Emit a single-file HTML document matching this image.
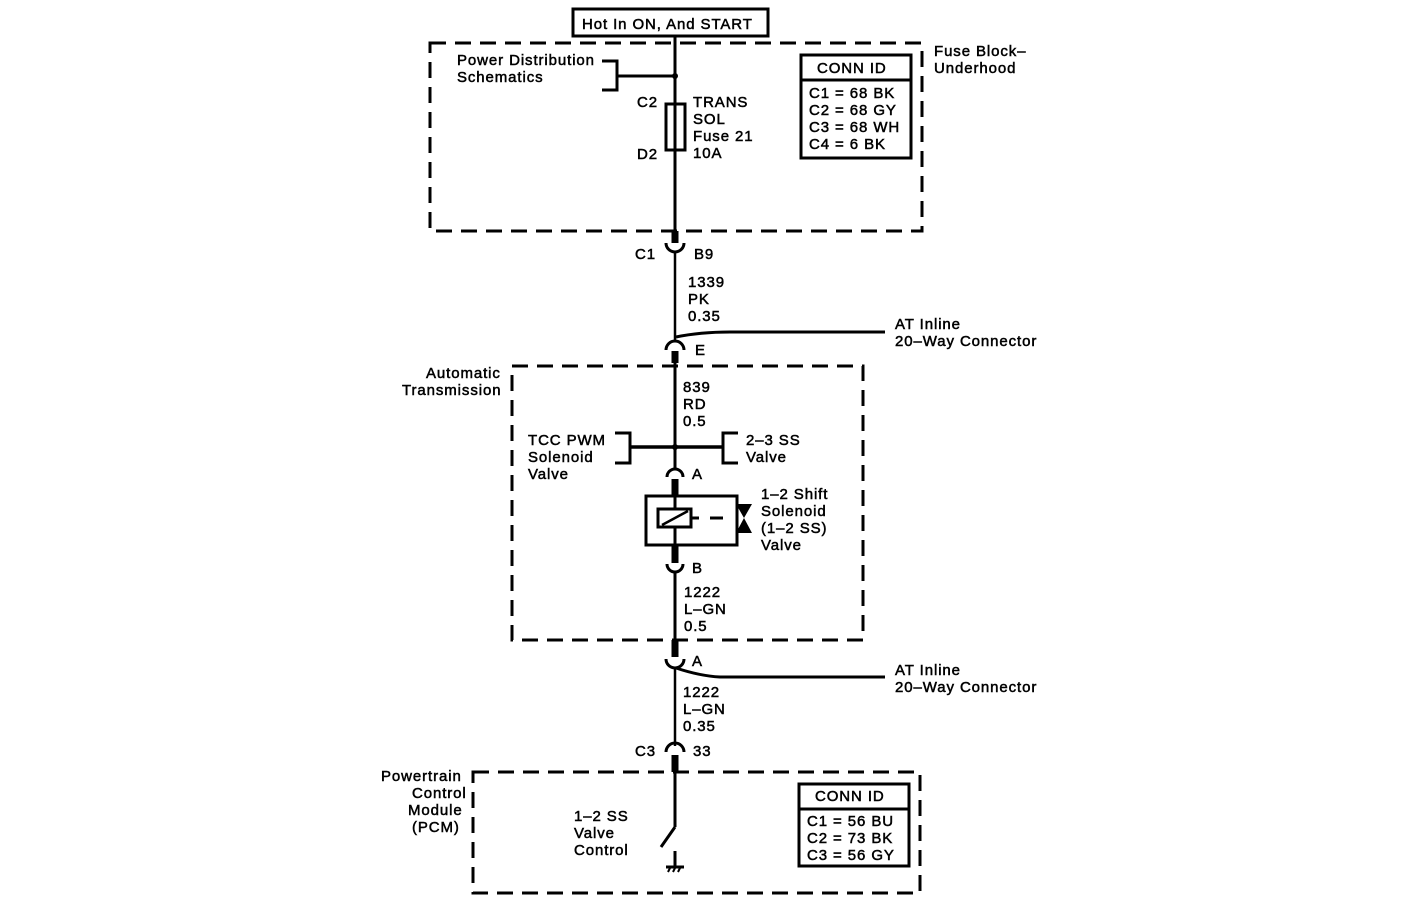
<!DOCTYPE html>
<html><head><meta charset="utf-8"><style>
html,body{margin:0;padding:0;background:#fff;}
svg{display:block}
text{font-family:"Liberation Sans",sans-serif;font-size:15px;letter-spacing:0.9px;fill:#000;stroke:#000;stroke-width:0.5}
</style></head><body>
<svg width="1408" height="920" viewBox="0 0 1408 920" xmlns="http://www.w3.org/2000/svg">
<g fill="none" stroke="#000">
<rect x="573" y="9" width="195" height="27" stroke-width="3"/>
<rect x="430" y="43" width="492" height="188" stroke-width="3" stroke-dasharray="16,9"/>
<rect x="512" y="366" width="351" height="274" stroke-width="3" stroke-dasharray="16,9"/>
<rect x="473" y="772" width="447" height="121" stroke-width="3" stroke-dasharray="16,9"/>
<line x1="675" y1="36" x2="675" y2="243" stroke-width="3"/>
<line x1="675" y1="231" x2="675" y2="243" stroke-width="7"/>
<path d="M666 243 A9 9 0 0 0 684 243" stroke-width="3"/>
<line x1="675" y1="252" x2="675" y2="340" stroke-width="2.5"/>
<path d="M666 350 A9 9 0 0 1 684 350" stroke-width="3"/>
<line x1="675" y1="351" x2="675" y2="363" stroke-width="7"/>
<path d="M676 337 Q700 332 730 332 L885 332" stroke-width="3"/>
<line x1="675" y1="363" x2="675" y2="470" stroke-width="3"/>
<rect x="666" y="104" width="19" height="46" stroke-width="3" fill="#fff"/>
<line x1="675" y1="104" x2="675" y2="150" stroke-width="3"/>
<path d="M602 61 H617 V90 H602" stroke-width="3"/>
<line x1="617" y1="76" x2="675" y2="76" stroke-width="3"/>
<rect x="801" y="55" width="110" height="103" stroke-width="3"/>
<line x1="801" y1="80" x2="911" y2="80" stroke-width="3"/>
<line x1="630" y1="447" x2="723" y2="447" stroke-width="3.5"/>
<path d="M615 433 H630 V463 H615" stroke-width="3"/>
<path d="M738 433 H723 V463 H738" stroke-width="3"/>
<path d="M667 477 A8 8 0 0 1 683 477" stroke-width="3"/>
<line x1="675" y1="479" x2="675" y2="496" stroke-width="7"/>
<rect x="646" y="496" width="91" height="49" stroke-width="3"/>
<line x1="675" y1="496" x2="675" y2="545" stroke-width="3"/>
<rect x="658" y="509" width="33" height="18" stroke-width="3" fill="#fff"/>
<line x1="662" y1="525" x2="688" y2="511" stroke-width="2.5"/>
<line x1="691" y1="518" x2="699" y2="518" stroke-width="3"/>
<line x1="710" y1="518" x2="723" y2="518" stroke-width="3"/>
<line x1="675" y1="545" x2="675" y2="563" stroke-width="7"/>
<path d="M667 564 A8 8 0 0 0 683 564" stroke-width="3"/>
<line x1="675" y1="572" x2="675" y2="641" stroke-width="3"/>
<line x1="675" y1="640" x2="675" y2="657" stroke-width="7"/>
<path d="M666 659 A9 9 0 0 0 684 659" stroke-width="3"/>
<path d="M676 668 Q700 676 720 677 L885 677" stroke-width="3"/>
<line x1="675" y1="668" x2="675" y2="746" stroke-width="2.5"/>
<path d="M666 752 A9 9 0 0 1 684 752" stroke-width="3"/>
<line x1="675" y1="755" x2="675" y2="772" stroke-width="7"/>
<line x1="675" y1="772" x2="675" y2="827" stroke-width="3"/>
<line x1="675" y1="827" x2="661" y2="847" stroke-width="3"/>
<line x1="675" y1="851" x2="675" y2="867" stroke-width="3"/>
<rect x="799" y="784" width="110" height="82" stroke-width="3"/>
<line x1="799" y1="809" x2="909" y2="809" stroke-width="3"/>
</g>
<circle cx="675" cy="76" r="3"/>
<circle cx="675" cy="447" r="3"/>
<polygon points="736,504 752,504 744,518"/>
<polygon points="736,533 752,533 744,518"/>
<path d="M666 867 H684" stroke="#000" stroke-width="3"/>
<path d="M668 872 L671 866 M673 872 L676 866 M678 872 L681 866" stroke="#000" stroke-width="2"/>
<g>
<text x="582" y="29">Hot In ON, And START</text>
<text x="457" y="65">Power Distribution</text>
<text x="457" y="82">Schematics</text>
<text x="637" y="107">C2</text>
<text x="637" y="159">D2</text>
<text x="693" y="107">TRANS</text>
<text x="693" y="124">SOL</text>
<text x="693" y="141">Fuse 21</text>
<text x="693" y="158">10A</text>
<text x="934" y="56">Fuse Block–</text>
<text x="934" y="73">Underhood</text>
<text x="817" y="73">CONN ID</text>
<text x="809" y="98">C1 = 68 BK</text>
<text x="809" y="115">C2 = 68 GY</text>
<text x="809" y="132">C3 = 68 WH</text>
<text x="809" y="149">C4 = 6 BK</text>
<text x="635" y="259">C1</text>
<text x="694" y="259">B9</text>
<text x="688" y="287">1339</text>
<text x="688" y="304">PK</text>
<text x="688" y="321">0.35</text>
<text x="895" y="329">AT Inline</text>
<text x="895" y="346">20–Way Connector</text>
<text x="695" y="355">E</text>
<text x="426" y="378">Automatic</text>
<text x="402" y="395">Transmission</text>
<text x="683" y="392">839</text>
<text x="683" y="409">RD</text>
<text x="683" y="426">0.5</text>
<text x="528" y="445">TCC PWM</text>
<text x="528" y="462">Solenoid</text>
<text x="528" y="479">Valve</text>
<text x="746" y="445">2–3 SS</text>
<text x="746" y="462">Valve</text>
<text x="692" y="479">A</text>
<text x="761" y="499">1–2 Shift</text>
<text x="761" y="516">Solenoid</text>
<text x="761" y="533">(1–2 SS)</text>
<text x="761" y="550">Valve</text>
<text x="692" y="573">B</text>
<text x="684" y="597">1222</text>
<text x="684" y="614">L–GN</text>
<text x="684" y="631">0.5</text>
<text x="692" y="666">A</text>
<text x="895" y="675">AT Inline</text>
<text x="895" y="692">20–Way Connector</text>
<text x="683" y="697">1222</text>
<text x="683" y="714">L–GN</text>
<text x="683" y="731">0.35</text>
<text x="635" y="756">C3</text>
<text x="693" y="756">33</text>
<text x="381" y="781">Powertrain</text>
<text x="412" y="798">Control</text>
<text x="408" y="815">Module</text>
<text x="412" y="832">(PCM)</text>
<text x="574" y="821">1–2 SS</text>
<text x="574" y="838">Valve</text>
<text x="574" y="855">Control</text>
<text x="815" y="801">CONN ID</text>
<text x="807" y="826">C1 = 56 BU</text>
<text x="807" y="843">C2 = 73 BK</text>
<text x="807" y="860">C3 = 56 GY</text>
</g>
</svg>
</body></html>
